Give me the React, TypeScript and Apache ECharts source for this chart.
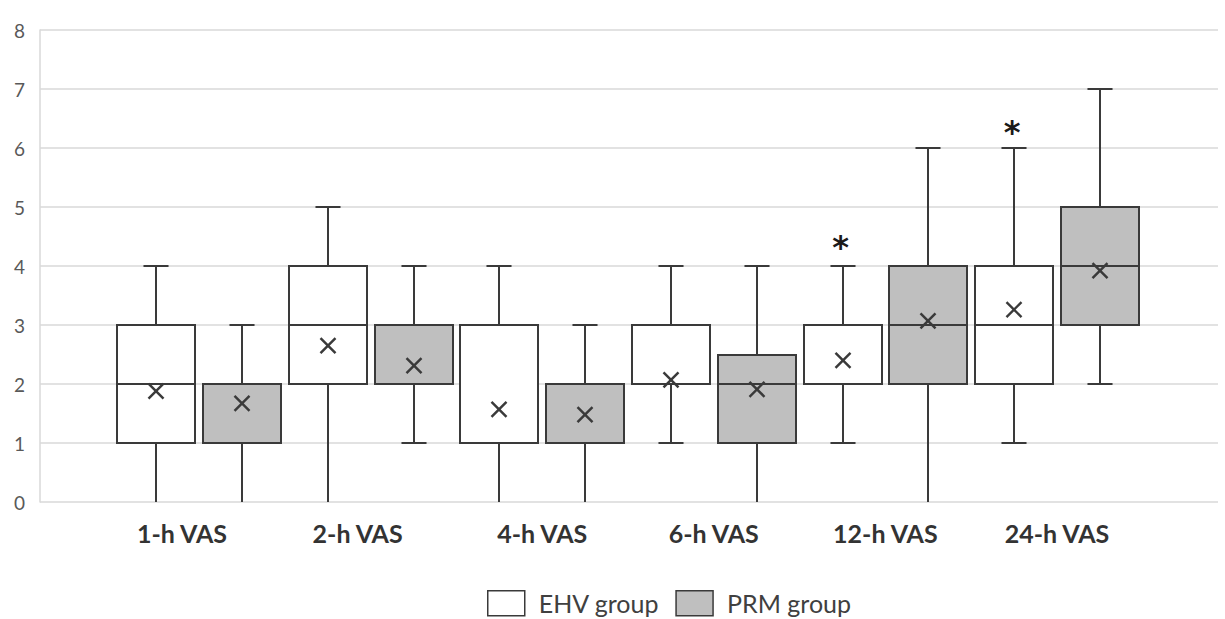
import React, { useEffect, useRef } from "react";
import * as echarts from "echarts";

const categories = ["1-h VAS", "2-h VAS", "4-h VAS", "6-h VAS", "12-h VAS", "24-h VAS"];
const yTicks = [0, 1, 2, 3, 4, 5, 6, 7, 8];

// [min, Q1, median, Q3, max]
const ehvBox = [
  [0, 1, 2, 3, 4],
  [0, 2, 3, 4, 5],
  [0, 1, 1, 3, 4],
  [1, 2, 2, 3, 4],
  [1, 2, 2, 3, 4],
  [1, 2, 3, 4, 6],
];
const prmBox = [
  [0, 1, 2, 2, 3],
  [1, 2, 2, 3, 4],
  [0, 1, 1, 2, 3],
  [0, 1, 2, 2.5, 4],
  [0, 2, 3, 4, 6],
  [2, 3, 4, 5, 7],
];
const ehvMean = [1.88, 2.65, 1.57, 2.07, 2.4, 3.26];
const prmMean = [1.67, 2.31, 1.48, 1.91, 3.07, 3.92];

// significance markers: [category index, y value]
const ehvStars = [
  [4, 4.4],
  [5, 6.34],
];

const DARK = "#3a3a3a";

function makeRender(sign: number, fill: string) {
  return (params: any, api: any) => {
    const cat = api.value(0);
    const band = api.size([1, 0])[0];
    const cx = Math.round(api.coord([cat, 0])[0] + sign * band * 0.25);
    const y = (v: number) => Math.round(api.coord([cat, v])[1]);
    const w = Math.round(band * 0.4545);
    const cap = band * 0.146;
    const mn = api.value(1), q1 = api.value(2), md = api.value(3), q3 = api.value(4), mx = api.value(5), mean = api.value(6);
    const ls = { stroke: DARK, lineWidth: 2 };
    const children: any[] = [
      { type: "line", shape: { x1: cx, y1: y(q3), x2: cx, y2: y(mx) }, style: ls },
      { type: "line", shape: { x1: cx, y1: y(q1), x2: cx, y2: y(mn) }, style: ls },
    ];
    if (mx > 0) children.push({ type: "line", shape: { x1: cx - cap / 2, y1: y(mx), x2: cx + cap / 2, y2: y(mx) }, style: ls });
    if (mn > 0) children.push({ type: "line", shape: { x1: cx - cap / 2, y1: y(mn), x2: cx + cap / 2, y2: y(mn) }, style: ls });
    children.push({
      type: "rect",
      shape: { x: cx - w / 2, y: y(q3), width: w, height: y(q1) - y(q3) },
      style: { fill, stroke: DARK, lineWidth: 2 },
    });
    children.push({ type: "line", shape: { x1: cx - w / 2, y1: y(md), x2: cx + w / 2, y2: y(md) }, style: ls });
    const my = api.coord([cat, mean])[1];
    const h = 7.5;
    const xs = { stroke: DARK, lineWidth: 2.4 };
    children.push({ type: "line", shape: { x1: cx - h, y1: my - h, x2: cx + h, y2: my + h }, style: xs });
    children.push({ type: "line", shape: { x1: cx - h, y1: my + h, x2: cx + h, y2: my - h }, style: xs });
    return { type: "group", children };
  };
}

export default function App() {
  const ref = useRef<HTMLDivElement>(null);
  useEffect(() => {
    if (!ref.current) return;
    const chart = echarts.init(ref.current, null, { renderer: "svg" });
    const font = "Lato, 'Open Sans', sans-serif";
    const labelShift: Record<number, number> = { 0: 34, 1: 26 };
    const ehvData = ehvBox.map((b, i) => [i, ...b, ehvMean[i]]);
    const prmData = prmBox.map((b, i) => [i, ...b, prmMean[i]]);
    chart.setOption({
      animation: false,
      textStyle: { fontFamily: font },
      grid: [
        { left: 40, right: 7, top: 30, bottom: 117 },
        { left: 113.2, right: 82.2, top: 30, bottom: 117 },
      ],
      xAxis: [
        { type: "value", gridIndex: 0, show: false, min: 0, max: 1 },
        {
          type: "category",
          gridIndex: 1,
          data: categories.map((c, i) => ({
            value: c,
            textStyle: labelShift[i] ? { padding: [0, labelShift[i], 0, 0] } : {},
          })),
          axisLine: { show: false },
          axisTick: { show: false },
          axisLabel: { color: "#333", fontWeight: "bold", fontSize: 25, margin: 18, fontFamily: font },
        },
      ],
      yAxis: [
        {
          type: "value",
          gridIndex: 0,
          min: yTicks[0],
          max: yTicks[yTicks.length - 1],
          interval: 1,
          axisLine: { show: true, lineStyle: { color: "#d9d9d9", width: 1.5 } },
          axisTick: { show: false },
          splitLine: { lineStyle: { color: "#d9d9d9", width: 1.5 } },
          axisLabel: { color: "#595959", fontSize: 19, margin: 15, fontFamily: font },
        },
        { type: "value", gridIndex: 1, min: 0, max: 8, show: false },
      ],
      legend: {
        left: 487,
        top: 590,
        padding: 0,
        itemWidth: 37,
        itemHeight: 25,
        itemGap: 16,
        icon: "rect",
        textStyle: {
          fontSize: 25,
          lineHeight: 25,
          color: "#404040",
          padding: [0, 0, 0, 9],
          fontFamily: font,
        },
        data: [
          { name: "EHV group", itemStyle: { color: "#ffffff", borderColor: DARK, borderWidth: 1.5 } },
          { name: "PRM group", itemStyle: { color: "#bfbfbf", borderColor: DARK, borderWidth: 1.5 } },
        ],
      },
      series: [
        {
          name: "EHV group",
          type: "custom",
          xAxisIndex: 1,
          yAxisIndex: 1,
          data: ehvData,
          itemStyle: { color: "#ffffff", borderColor: DARK },
          renderItem: makeRender(-1, "#ffffff"),
        },
        {
          name: "PRM group",
          type: "custom",
          xAxisIndex: 1,
          yAxisIndex: 1,
          data: prmData,
          itemStyle: { color: "#bfbfbf", borderColor: DARK },
          renderItem: makeRender(1, "#bfbfbf"),
        },
        {
          name: "sig",
          type: "custom",
          xAxisIndex: 1,
          yAxisIndex: 1,
          data: ehvStars,
          renderItem: (params: any, api: any) => {
            const band = api.size([1, 0])[0];
            const p = api.coord([api.value(0), api.value(1)]);
            return {
              type: "text",
              style: {
                x: p[0] - band * 0.25 - 2,
                y: p[1] + 4.5,
                text: "*",
                fill: "#1a1a1a",
                font: "bold 32px 'DejaVu Sans', sans-serif",
                align: "center",
                verticalAlign: "middle",
              },
            };
          },
        },
      ],
    });
    return () => chart.dispose();
  }, []);
  return (
    <div
      ref={ref}
      style={{ position: "fixed", left: 0, top: 0, width: 1225, height: 619, background: "#fff" }}
    />
  );
}
